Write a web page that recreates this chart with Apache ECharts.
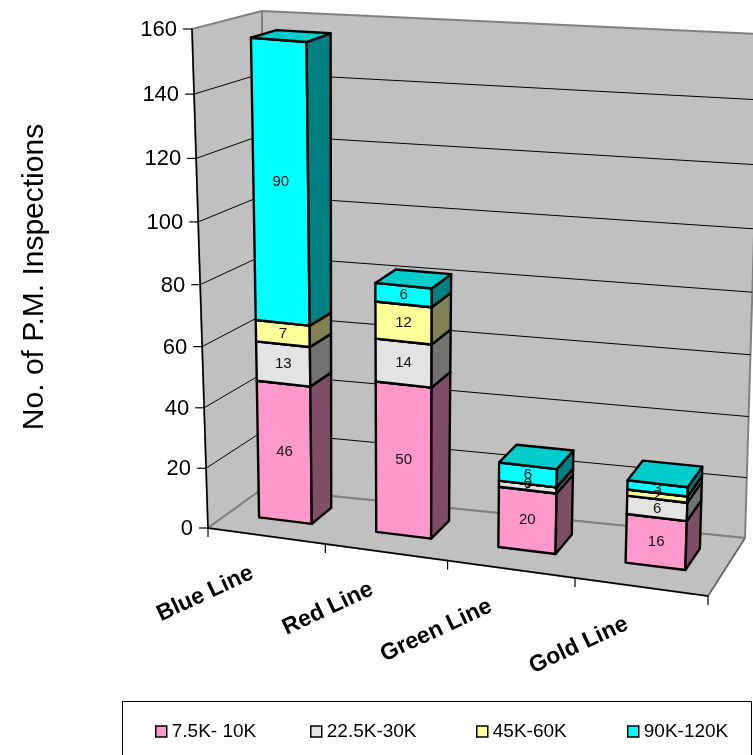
<!DOCTYPE html>
<html><head><meta charset="utf-8">
<style>html,body{margin:0;padding:0;background:#fff}#c{width:753px;height:755px}</style>
<script src="https://cdn.jsdelivr.net/npm/echarts@6/dist/echarts.min.js"></script>
</head><body><div id="c"></div>
<script>
const categories = ['Blue Line','Red Line','Green Line','Gold Line'];
const yTicks = [0,20,40,60,80,100,120,140,160];
const seriesNames = ['7.5K- 10K','22.5K-30K','45K-60K','90K-120K'];
const band1 = [46,50,20,16];
const band2 = [13,14,2,6];
const band3 = [7,12,0,2];
const band4 = [90,6,6,3];
const bands = [band1,band2,band3,band4];
const faceColors = ['#FF99CC','#E3E3E3','#FFFF99','#00FFFF'];
const sideColors = ['#804D66','#727272','#808050','#008080'];
const topColors  = ['#CC7AA3','#B6B6B6','#CCCC7A','#00CCCC'];
const FONT = '"Liberation Sans", Arial, sans-serif';

// camera: the eight corners of the chart box as seen on screen
const box = {
  fb0:[208,528], fb1:[708,596], bb0:[262,489], bb1:[745,538],
  ft0:[192,29],  ft1:[727,78],  bt0:[262,11],  bt1:[760,34]
};
const persU = -0.02, persV = -0.0003;
const warpU = s => { const u=s*4; return u*(1+4*persU)/(4*(1+u*persU)); };
const warpV = s => { const v=s*160; return v*(1+160*persV)/(160*(1+v*persV)); };
const mix = (a,b,t)=>[a[0]+(b[0]-a[0])*t,a[1]+(b[1]-a[1])*t];
function project(sx,sy,w){
  const f=warpU(sx), h=warpV(sy);
  const fb=mix(box.fb0,box.fb1,f), bb=mix(box.bb0,box.bb1,f);
  const ft=mix(box.ft0,box.ft1,f), bt=mix(box.bt0,box.bt1,f);
  return mix(mix(fb,bb,w),mix(ft,bt,w),h);
}
// data -> axis scale -> box fraction -> screen
function place(api,cs,cat,val,du,w){
  const p=api.coord([cat,val]);
  return project((p[0]-cs.x)/cs.width+du,(cs.y+cs.height-p[1])/cs.height,w);
}
const BAR=0.455, W0=0.37, W1=0.75, EDGE=2.4;

function poly(points,fill,stroke,lw){
  return {type:'polygon',shape:{points},style:{fill,stroke,lineWidth:lw,lineJoin:'round'}};
}
function seg(a,b,stroke,lw){
  return {type:'line',shape:{x1:a[0],y1:a[1],x2:b[0],y2:b[1]},style:{stroke,lineWidth:lw}};
}
function bandRender(idx){
  return function(params,api){
    const cs=params.coordSys, cat=api.value(0), lo=api.value(1), hi=api.value(2), val=api.value(3);
    const hw=BAR/8; // half a bar, a quarter of the width per category
    const P=(v,du,w)=>place(api,cs,cat,v,du,w);
    const a=P(lo,-hw,W0), b=P(lo,hw,W0), c=P(hi,hw,W0), d=P(hi,-hw,W0);
    const e=P(lo,hw,W1), g=P(hi,hw,W1), k=P(hi,-hw,W1);
    const m=[(a[0]+b[0]+c[0]+d[0])/4,(a[1]+b[1]+c[1]+d[1])/4];
    return {type:'group',children:[
      poly([a,b,c,d],faceColors[idx],'#000',EDGE),
      poly([b,e,g,c],sideColors[idx],'#000',EDGE),
      poly([d,c,g,k],topColors[idx],'#000',EDGE),
      {type:'text',z2:100,x:m[0],y:m[1],style:{text:String(val),fill:'#111',font:'15px '+FONT,align:'center',verticalAlign:'middle'}}
    ]};
  };
}
function wallsRender(params,api){
  const cs=params.coordSys;
  const kids=[];
  const P=(s,h,w)=>project(s,h,w);
  kids.push(poly([P(0,0,0),P(0,0,1),P(0,1,1),P(0,1,0)],'#C0C0C0','#808080',2));
  kids.push(poly([P(0,0,1),P(1,0,1),P(1,1,1),P(0,1,1)],'#C0C0C0','#808080',2));
  kids.push(poly([P(0,0,0),P(1,0,0),P(1,0,1),P(0,0,1)],'#C0C0C0','#808080',2));
  yTicks.forEach(t=>{
    const p=api.coord([0,t]);
    const h=(cs.y+cs.height-p[1])/cs.height;
    const a=P(0,h,0), b=P(0,h,1), c=P(1,h,1);
    if(t>0&&t<160){kids.push(seg(a,b,'#000',1));kids.push(seg(b,c,'#000',1));}
    kids.push(seg([a[0]-9,a[1]],a,'#000',1.2));
    kids.push({type:'text',x:a[0]-15,y:a[1]+1,style:{text:String(t),fill:'#000',font:'22px '+FONT,align:'right',verticalAlign:'middle'}});
  });
  kids.push(seg(P(0,0,0),P(0,1,0),'#000',1.5));
  kids.push(seg(P(0,0,0),P(1,0,0),'#000',1.5));
  kids.push(seg(P(1,0,0),P(1,0,1),'#555',1));
  [0,.25,.5,.75,1].forEach(s=>{const a=P(s,0,0);kids.push(seg(a,[a[0],a[1]+9],'#000',1.2));});
  const labelLead=[0,0,6,0];
  categories.forEach((name,i)=>{
    const a=place(api,cs,i,0,0,0);
    kids.push({type:'text',x:a[0]-14-labelLead[i],y:a[1]+36,rotation:25*Math.PI/180,
      style:{text:name,fill:'#000',font:'bold 23px '+FONT,align:'right',verticalAlign:'middle'}});
  });
  return {type:'group',children:kids};
}

const series=[{type:'custom',name:'walls',z:1,silent:true,renderItem:wallsRender,data:[[0,0]]}];
seriesNames.forEach((name,idx)=>{
  series.push({type:'custom',name,z:2,silent:true,itemStyle:{color:faceColors[idx]},
    renderItem:bandRender(idx),
    data:categories.map((c,i)=>{
      let lo=0; for(let j=0;j<idx;j++) lo+=bands[j][i];
      return [i,lo,lo+bands[idx][i],bands[idx][i]];
    })});
});

const legendLefts=[155,310,476,627];

const chart=echarts.init(document.getElementById('c'),null,{renderer:'canvas'});
chart.setOption({
  animation:false,
  backgroundColor:'#fff',
  grid:{left:192,right:10,top:29,bottom:230},
  xAxis:{type:'category',data:categories,axisLine:{show:false},axisTick:{show:false},axisLabel:{show:false},splitLine:{show:false}},
  yAxis:{type:'value',min:0,max:160,interval:20,axisLine:{show:false},axisTick:{show:false},axisLabel:{show:false},splitLine:{show:false},
    name:'No. of P.M. Inspections',nameLocation:'middle',nameRotate:90,nameGap:142,
    nameTextStyle:{fontFamily:FONT,fontSize:30,color:'#000'}},
  graphic:[{type:'rect',shape:{x:122.5,y:701.5,width:629,height:70},style:{fill:'none',stroke:'#000',lineWidth:1}}],
  legend:seriesNames.map((name,i)=>({data:[name],left:legendLefts[i],top:722,padding:0,icon:'rect',itemWidth:11,itemHeight:11,
    itemStyle:{borderColor:'#000',borderWidth:1.5},
    textStyle:{fontFamily:FONT,fontSize:19,color:'#000'},selectedMode:false})),
  series
});
</script></body></html>
